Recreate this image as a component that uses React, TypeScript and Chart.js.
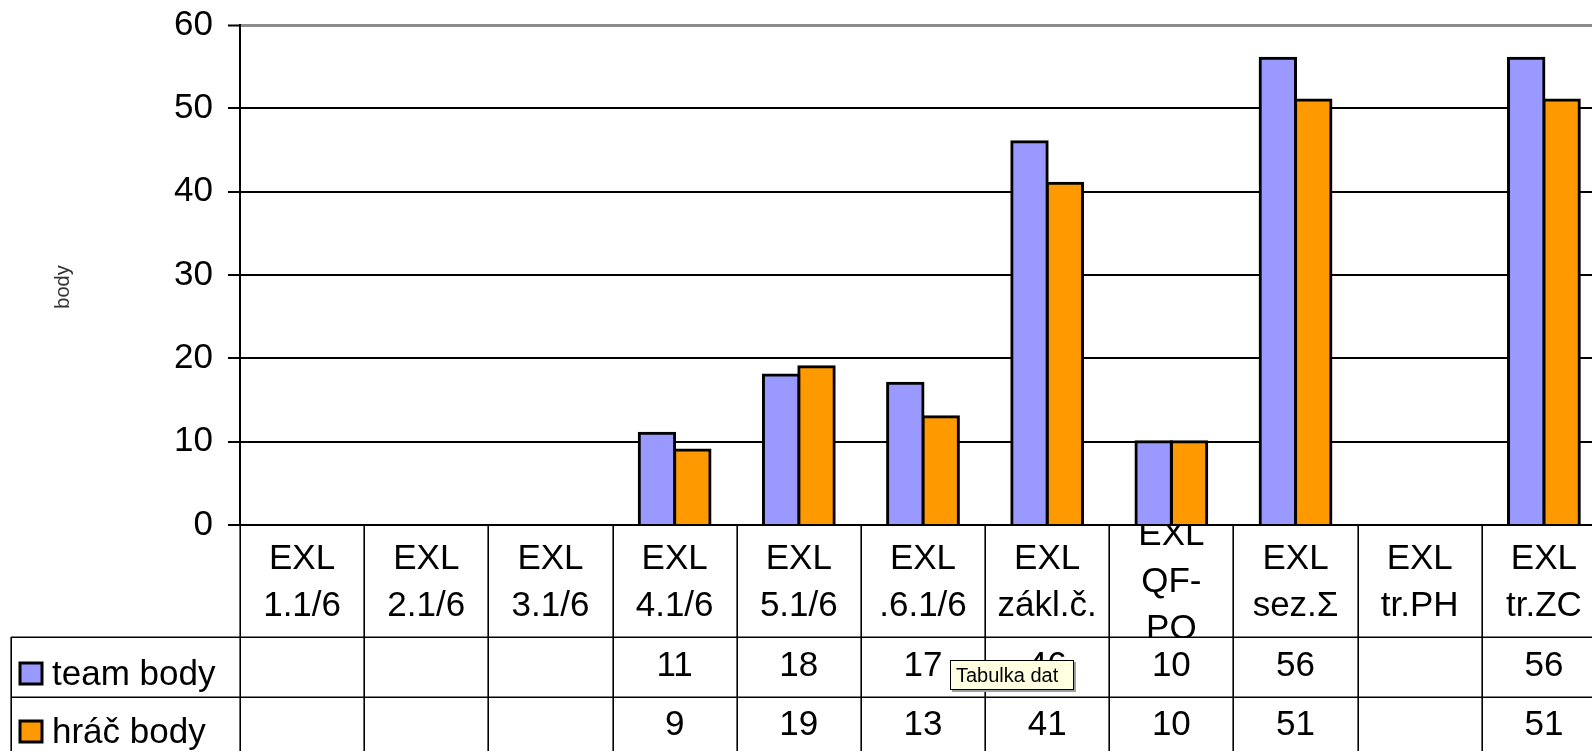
import React, { useEffect, useRef } from "react";
import { Chart, registerables } from "chart.js";

Chart.register(...registerables);

// ---- data ----
const categories: string[][] = [
  ["EXL", "1.1/6"],
  ["EXL", "2.1/6"],
  ["EXL", "3.1/6"],
  ["EXL", "4.1/6"],
  ["EXL", "5.1/6"],
  ["EXL", ".6.1/6"],
  ["EXL", "zákl.č."],
  ["EXL", "QF-", "PO"],
  ["EXL", "sez.Σ"],
  ["EXL", "tr.PH"],
  ["EXL", "tr.ZC"],
];
const teamBody: (number | null)[] = [null, null, null, 11, 18, 17, 46, 10, 56, null, 56];
const hracBody: (number | null)[] = [null, null, null, 9, 19, 13, 41, 10, 51, null, 51];
const seriesNames = ["team body", "hráč body"];
const seriesColors = ["#9999FF", "#FF9900"];
const yMin = 0;
const yMax = 60;
const yStep = 10;
const yTitle = "body";
const tooltipText = "Tabulka dat";

const FONT = '"Liberation Sans", Arial, sans-serif';
const FS = 35;

const tablePlugin = {
  id: "dataTable",
  afterDraw(chart: any) {
    const { ctx, chartArea } = chart;
    const x = chart.scales.x;
    const W = chart.width;
    const H = chart.height;
    const bottom = chartArea.bottom;
    const row1 = bottom + 112;
    const row2 = row1 + 60;
    const n = categories.length;
    const half = (x.getPixelForValue(1) - x.getPixelForValue(0)) / 2;
    const bounds: number[] = [];
    for (let i = 0; i < n; i++) bounds.push(x.getPixelForValue(i) - half);
    bounds.push(x.getPixelForValue(n - 1) + half);

    ctx.save();
    ctx.strokeStyle = "#000";
    ctx.lineWidth = 1.6;
    for (const b of bounds) {
      ctx.beginPath();
      ctx.moveTo(Math.round(b) + 0.2, bottom);
      ctx.lineTo(Math.round(b) + 0.2, H);
      ctx.stroke();
    }
    ctx.beginPath();
    ctx.moveTo(11.2, row1);
    ctx.lineTo(11.2, H);
    ctx.stroke();
    for (const y of [row1, row2]) {
      ctx.beginPath();
      ctx.moveTo(11, y + 0.2);
      ctx.lineTo(W, y + 0.2);
      ctx.stroke();
    }

    ctx.fillStyle = "#000";
    ctx.font = `${FS}px ${FONT}`;
    ctx.textAlign = "center";
    ctx.textBaseline = "alphabetic";
    const baseMid = bottom + 67;
    const lh = 47;
    for (let i = 0; i < n; i++) {
      const cx = x.getPixelForValue(i);
      const lines = categories[i];
      ctx.save();
      ctx.beginPath();
      ctx.rect(bounds[i] + 1, bottom + 1, bounds[i + 1] - bounds[i] - 2, row1 - bottom - 1);
      ctx.clip();
      const start = baseMid - ((lines.length - 1) * lh) / 2;
      lines.forEach((l, j) => ctx.fillText(l, cx, start + j * lh));
      ctx.restore();
      if (teamBody[i] !== null) ctx.fillText(String(teamBody[i]), cx, row1 + 39);
      if (hracBody[i] !== null) ctx.fillText(String(hracBody[i]), cx, row2 + 38);
    }

    // legend keys inside the table
    const bases = [row1 + 48, row2 + 46];
    ctx.textAlign = "left";
    bases.forEach((by, k) => {
      ctx.fillStyle = seriesColors[k];
      ctx.fillRect(20, by - 22, 22, 21);
      ctx.lineWidth = 3;
      ctx.strokeStyle = "#000";
      ctx.strokeRect(20, by - 22, 22, 21);
      ctx.fillStyle = "#000";
      ctx.fillText(seriesNames[k], 52, by);
    });

    // y axis title
    ctx.save();
    ctx.translate(63, 287);
    ctx.rotate(-Math.PI / 2);
    ctx.font = `20px ${FONT}`;
    ctx.fillStyle = "#333";
    ctx.textAlign = "center";
    ctx.textBaseline = "middle";
    ctx.fillText(yTitle, 0, 0);
    ctx.restore();

    // tooltip box
    const tx = 950, ty = 660, tw = 124, th = 30;
    ctx.fillStyle = "#a0a0a0";
    ctx.fillRect(tx + 2, ty + 2, tw, th);
    ctx.fillStyle = "#FFFFE1";
    ctx.fillRect(tx, ty, tw, th);
    ctx.lineWidth = 1;
    ctx.strokeStyle = "#000";
    ctx.strokeRect(tx + 0.5, ty + 0.5, tw - 1, th - 1);
    ctx.fillStyle = "#000";
    ctx.font = `20px ${FONT}`;
    ctx.textAlign = "left";
    ctx.textBaseline = "middle";
    ctx.fillText(tooltipText, tx + 6, ty + th / 2 + 1);

    ctx.restore();
  },
};

export default function App() {
  const ref = useRef<HTMLCanvasElement>(null);
  useEffect(() => {
    if (!ref.current) return;
    const mk = (i: number, data: (number | null)[]) =>
      ({
        label: seriesNames[i],
        data,
        backgroundColor: seriesColors[i],
        borderColor: "#000",
        borderWidth: 3,
        inflateAmount: 1.5,
        categoryPercentage: 0.57,
        barPercentage: 1,
      } as any);
    const chart = new Chart(ref.current, {
      type: "bar",
      data: {
        labels: categories.map((c) => c.join(" ")),
        datasets: [mk(0, teamBody), mk(1, hracBody)],
      },
      options: {
        responsive: false,
        animation: false,
        layout: { padding: { left: 0, top: 25, right: 34, bottom: 226 } },
        plugins: { legend: { display: false }, tooltip: { enabled: false } },
        scales: {
          x: { display: false },
          y: {
            min: yMin,
            max: yMax,
            ticks: { stepSize: yStep, padding: 15, color: "#000", font: { family: FONT, size: FS } },
            grid: {
              color: (c: any) => (c.tick && c.tick.value === yMax ? "#8c8c8c" : "#000"),
              lineWidth: (c: any) => (c.tick && c.tick.value === yMax ? 3 : 2),
              tickLength: 12,
              tickColor: "#000",
              tickWidth: 2,
            },
            border: { color: "#000", width: 2 },
            afterFit: (s: any) => {
              s.width = 240;
              s.paddingTop = 0;
              s.paddingBottom = 0;
            },
          } as any,
        },
      },
      plugins: [tablePlugin],
    });
    return () => chart.destroy();
  }, []);
  return (
    <div style={{ position: "absolute", left: 0, top: 0, width: 1592, height: 751, overflow: "hidden", background: "#fff" }}>
      <canvas ref={ref} width={1640} height={751} style={{ display: "block", width: 1640, height: 751 }} />
    </div>
  );
}
